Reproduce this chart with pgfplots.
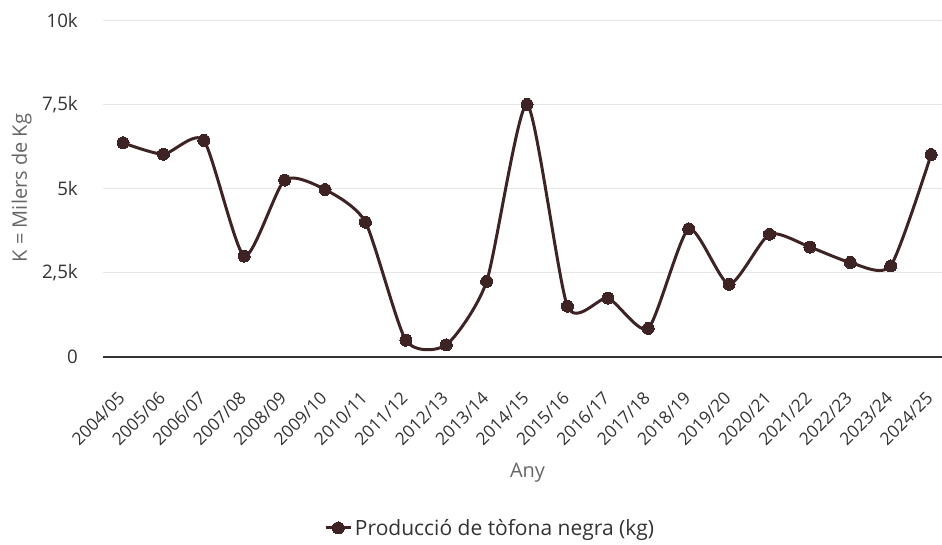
\documentclass[border=0pt]{standalone}
\usepackage{pgfplots}
\pgfplotsset{compat=1.18}
\usepackage{fontspec}
\setmainfont{Open Sans}
\definecolor{linec}{HTML}{3E2325}
\definecolor{gridc}{HTML}{E6E6E6}
\definecolor{tickc}{HTML}{333333}
\definecolor{titlec}{HTML}{666666}
\newcommand{\yfont}{\fontsize{14}{16}\selectfont}
\newcommand{\xfont}{\fontsize{13}{15}\selectfont}
\newcommand{\tfont}{\fontsize{15}{17}\selectfont}
\newcommand{\lfont}{\fontsize{15.75}{18}\selectfont}
\begin{document}
\begin{tikzpicture}
\path[use as bounding box] (0pt,0pt) rectangle (706.5pt,408.75pt);
\begin{axis}[
  at={(77.25pt,141pt)}, anchor=south west,
  scale only axis, width=629.25pt, height=252.2pt,
  xmin=-0.495, xmax=20.27, ymin=0, ymax=10000,
  scaled y ticks=false,
  axis x line*=bottom, axis y line*=left,
  y axis line style={draw=none},
  x axis line style={draw=tickc, line width=1.5pt},
  ymajorgrids, grid style={gridc, line width=0.75pt},
  major tick length=0pt,
  /pgf/number format/assume math mode=true,
  ytick={0,2500,5000,7500,10000},
  yticklabels={0,{2,5k},5k,{7,5k},10k},
  xtick={0,...,20},
  xticklabels={2004/05,2005/06,2006/07,2007/08,2008/09,2009/10,2010/11,2011/12,2012/13,2013/14,2014/15,2015/16,2016/17,2017/18,2018/19,2019/20,2020/21,2021/22,2022/23,2023/24,2024/25},
  yticklabel style={font=\yfont, text=tickc, inner sep=0pt, anchor=east, xshift=-18.75pt},
  xticklabel style={font=\xfont, text=tickc, inner sep=0pt, xshift=-1pt, yshift=-28.8pt, rotate=45, anchor=east},
  xlabel={Any},
  ylabel={K = Milers de Kg},
  xlabel style={font=\tfont, text=titlec, at={(axis description cs:0.506,-0.344)}, anchor=center},
  ylabel style={font=\tfont, text=titlec, at={(axis description cs:-0.097,0.5025)}, anchor=center, rotate=0},
  legend style={at={(axis description cs:0.4619,-0.5085)}, anchor=center, draw=none, fill=none, font=\lfont, text=tickc, inner sep=0pt},
  legend image code/.code={\draw[mark repeat=2,mark phase=2] plot coordinates {(0pt,0pt) (9.4pt,0pt) (18.75pt,0pt)};},
  clip=false,
]
\addplot[color=linec, line width=2.25pt, smooth, tension=0.38, mark=*, mark size=4.5pt, mark options={fill=linec, draw=linec, line width=0pt}]
coordinates {
(0,6370) (1,6030) (2,6440) (3,3000) (4,5260) (5,4980) (6,4010) (7,500) (8,360) (9,2250)
(10,7510) (11,1510) (12,1750) (13,850) (14,3810) (15,2160) (16,3650) (17,3270) (18,2810) (19,2710) (20,6020)
};
\addlegendentry{Producció de tòfona negra (kg)}
\end{axis}
\end{tikzpicture}
\end{document}
